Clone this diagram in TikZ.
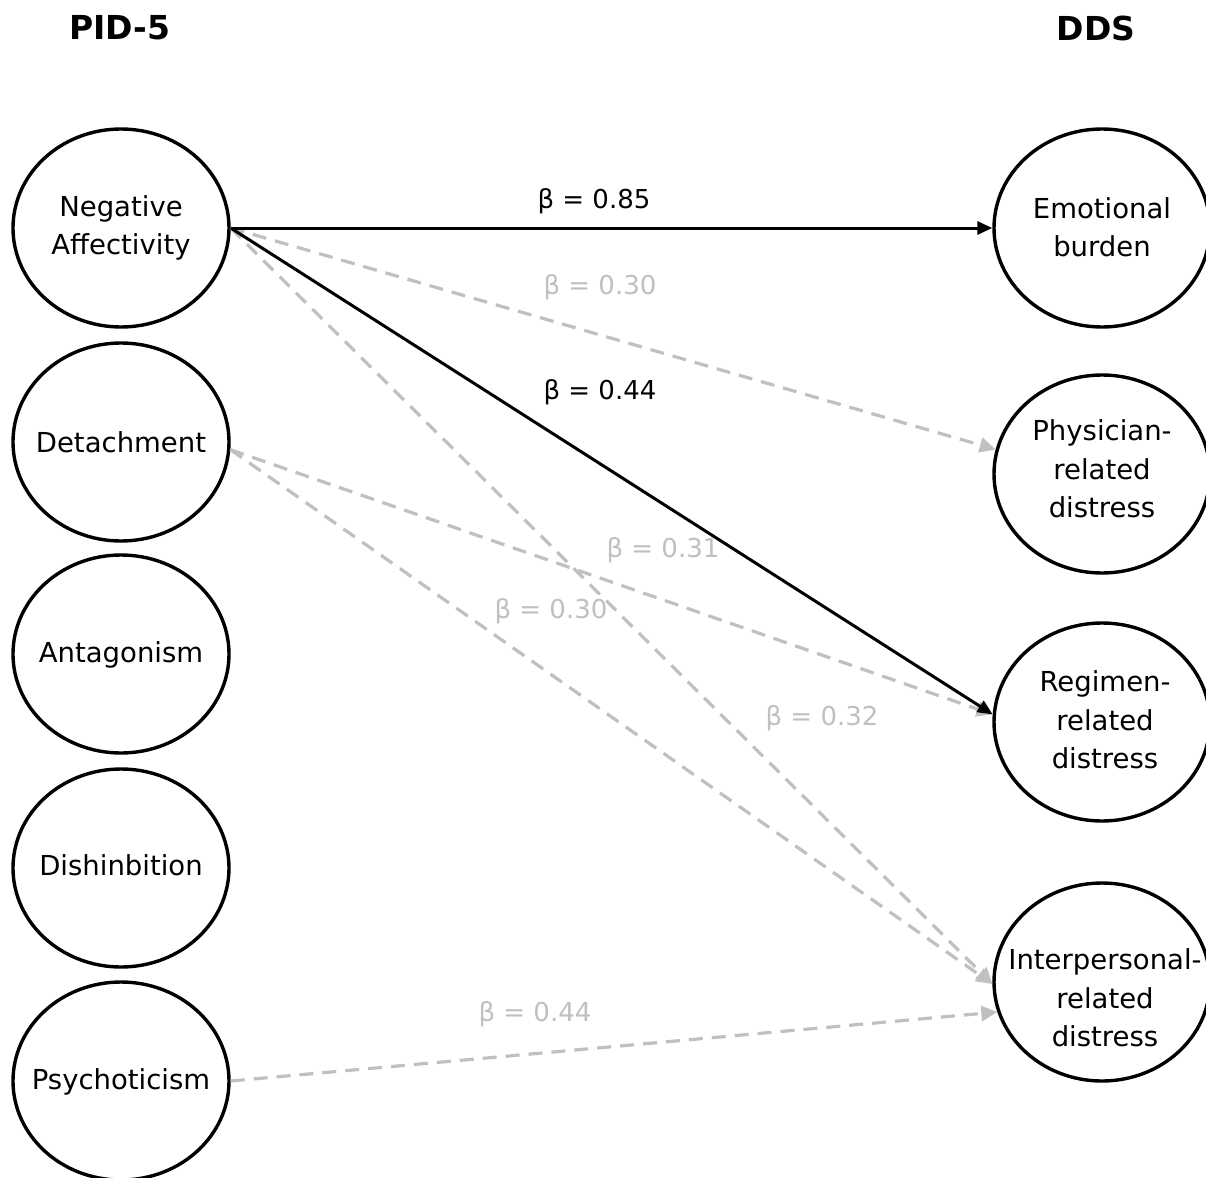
\documentclass[tikz,border=0pt]{standalone}
\usepackage{fontspec}
\setmainfont{DejaVu Sans}
\usetikzlibrary{shapes.geometric,arrows.meta}
\definecolor{lgray}{RGB}{192,192,192}
\begin{document}
\begin{tikzpicture}[x=1pt,y=-1pt,
  oval/.style={ellipse,draw=black,line width=3.4pt,minimum width=216pt,minimum height=198pt,inner sep=0pt},
  lbl/.style={font=\fontsize{27.5}{38.5}\selectfont,align=center,inner sep=0pt},
  ttl/.style={font=\fontsize{33}{40}\selectfont\bfseries,inner sep=0pt},
  beta/.style={font=\fontsize{26}{30}\selectfont,inner sep=0pt},
  solidarr/.style={line width=3pt,-{Triangle[length=15pt,width=13pt]}},
  dasharr/.style={line width=3.2pt,lgray,dash pattern=on 14pt off 9pt,-{Triangle[length=16pt,width=15pt]}}]
\useasboundingbox (0,0) rectangle (1206,1177);
\fill[white] (0,0) rectangle (1206,1177);
% titles
\node[ttl] (t1) at (120,28) {PID-5};
\node[ttl] (t2) at (1096,28) {DDS};
% left ovals
\node[oval] (na) at (121,228) {};
\node[oval] (det) at (121,442) {};
\node[oval] (ant) at (121,654) {};
\node[oval] (dis) at (121,868) {};
\node[oval] (psy) at (121,1081) {};
\node[lbl] (tna) at (121,228) {Negative\\Affectivity};
\node[lbl] (tdet) at (121,442) {Detachment};
\node[lbl] (tant) at (121,655) {Antagonism};
\node[lbl] (tdis) at (121,865) {Dishinbition};
\node[lbl] (tpsy) at (121,1082) {Psychoticism};
% right ovals
\node[oval] (eb) at (1102,228) {};
\node[oval] (phy) at (1102,474) {};
\node[oval] (reg) at (1102,722) {};
\node[oval] (ipr) at (1102,982) {};
\node[lbl] (teb) at (1102,227) {Emotional\\burden};
\node[lbl] (tphy) at (1102,469) {Physician-\\related\\distress};
\node[lbl] (treg) at (1105,720) {Regimen-\\related\\distress};
\node[lbl] (tipr) at (1105,998) {Interpersonal-\\related\\distress};
% connectors
\draw[dasharr] (na.east) -- (phy.167);
\draw[dasharr] (na.east) -- (ipr.181);
\draw[dasharr] (det.356) -- (reg.176);
\draw[dasharr] (det.356) -- (ipr.181);
\draw[dasharr] (psy.east) -- (ipr.196);
\draw[solidarr] (na.east) -- (eb.west);
\draw[solidarr] (na.east) -- (reg.176);
% coefficients
\node[beta] (b1) at (594,201) {β = 0.85};
\node[beta,lgray] (b2) at (600,287) {β = 0.30};
\node[beta] (b3) at (600,392) {β = 0.44};
\node[beta,lgray] (b4) at (663,550) {β = 0.31};
\node[beta,lgray] (b5) at (551,611) {β = 0.30};
\node[beta,lgray] (b6) at (822,718) {β = 0.32};
\node[beta,lgray] (b7) at (535,1014) {β = 0.44};
\end{tikzpicture}
\end{document}
